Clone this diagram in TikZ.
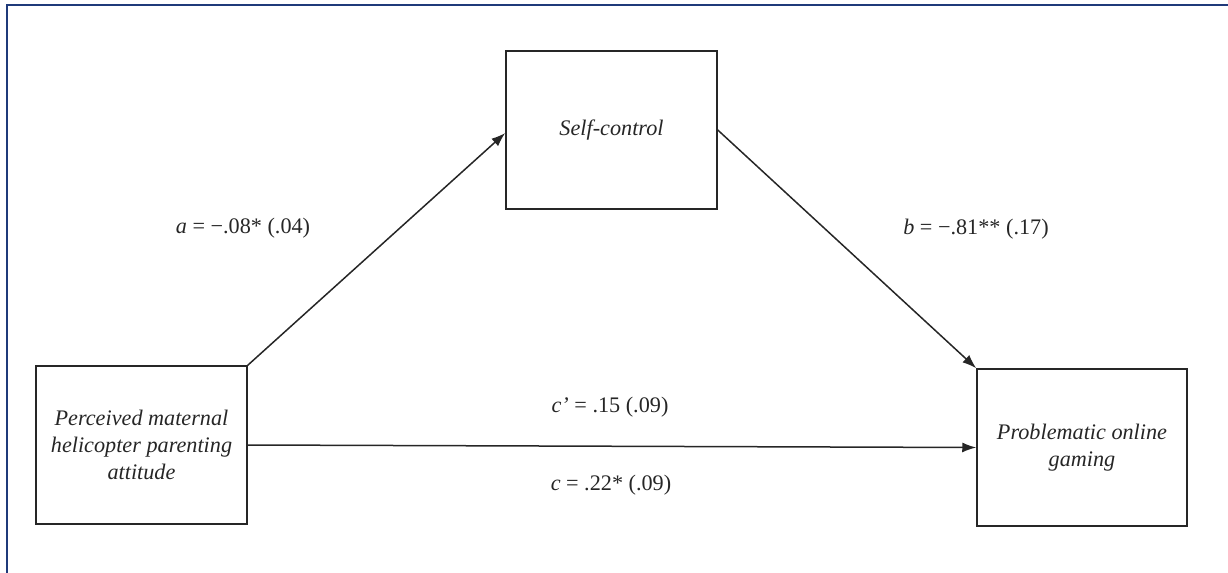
\documentclass[tikz,border=0pt]{standalone}
\usepackage{fontspec}
\setmainfont{Liberation Serif}
\usetikzlibrary{arrows.meta}
\definecolor{framecol}{HTML}{1F3A7A}
\definecolor{ink}{HTML}{262626}
\begin{document}
\begin{tikzpicture}[x=1bp,y=-1bp,
  varbox/.style={draw=ink, line width=1.5bp, minimum width=211bp, minimum height=158bp,
    align=center, text=ink, font=\fontsize{22.3}{27.5}\selectfont\itshape, inner sep=0pt},
  path/.style={draw=ink, line width=1.5bp, -{Latex[length=14bp,width=10bp]}},
  coef/.style={text=ink, font=\fontsize{22.3}{25}\selectfont, inner sep=0pt}]
  \useasboundingbox (0,0) rectangle (1228,573);
  % page frame (top and left edges)
  \draw[framecol, line width=2.2bp] (7,573) -- (7,5) -- (1228,5);
  % variables
  \node[varbox] (X) at (141.5,445) {Perceived maternal\\helicopter parenting\\attitude};
  \node[varbox] (M) at (611.5,130) {Self-control};
  \node[varbox, minimum width=210bp, minimum height=157bp] (Y) at (1082,447.5) {Problematic online\\gaming};
  % paths
  \draw[path] (X.north east) -- ([yshift=-3bp]M.west);
  \draw[path] (M.east) -- (Y.north west);
  \draw[path] (X.east) -- (Y.west);
  % coefficients
  \node[coef] (ca) at (243,228) {\textit{a} = −.08* (.04)};
  \node[coef] (cb) at (976,229) {\textit{b} = −.81** (.17)};
  \node[coef] (ccp) at (610,407) {\textit{c’} = .15 (.09)};
  \node[coef] (cc) at (611,485) {\textit{c} = .22* (.09)};
\end{tikzpicture}
\end{document}
